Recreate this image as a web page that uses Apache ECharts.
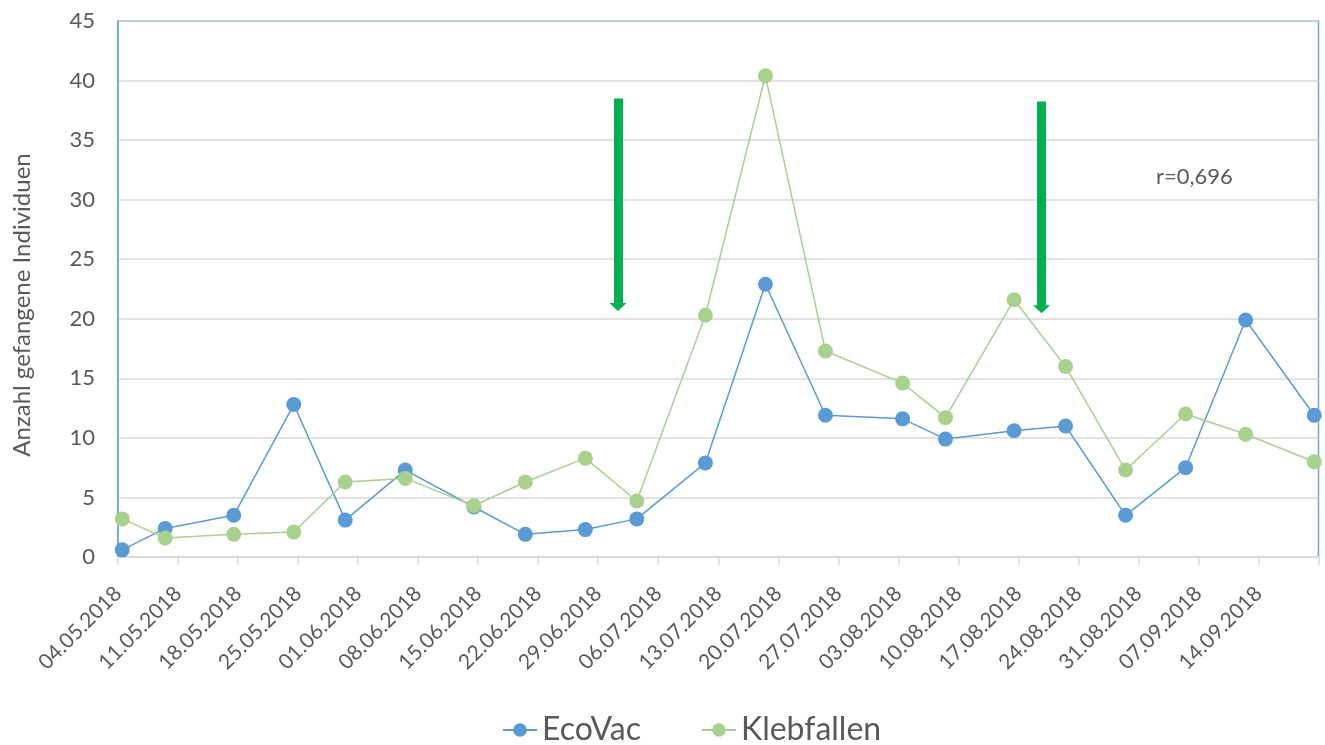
<!DOCTYPE html>
<html>
<head>
<meta charset="utf-8">
<script src="https://cdn.jsdelivr.net/npm/echarts@6/dist/echarts.min.js"></script>
<style>
  html, body { margin: 0; padding: 0; background: #fff; }
  #chart { width: 1325px; height: 745px; }
</style>
</head>
<body>
<div id="chart"></div>
<script>
// Fangdaten
var sampleDates = ['2018-05-04', '2018-05-09', '2018-05-17', '2018-05-24', '2018-05-30', '2018-06-06', '2018-06-14',
    '2018-06-20', '2018-06-27', '2018-07-03', '2018-07-11', '2018-07-18', '2018-07-25', '2018-08-03',
    '2018-08-08', '2018-08-16', '2018-08-22', '2018-08-29', '2018-09-05', '2018-09-12', '2018-09-20'];
var ecoVac = [0.6, 2.4, 3.5, 12.8, 3.1, 7.3, 4.2, 1.9, 2.3, 3.2, 7.9, 22.9, 11.9, 11.6, 9.9, 10.6, 11.0, 3.5, 7.5, 19.9, 11.9];
var klebfallen = [3.2, 1.6, 1.9, 2.1, 6.3, 6.6, 4.3, 6.3, 8.3, 4.7, 20.3, 40.4, 17.3, 14.6, 11.7, 21.6, 16.0, 7.3, 12.0, 10.3, 8.0];

// Achsenbeschriftung (wöchentlich)
var tickLabels = ['04.05.2018', '11.05.2018', '18.05.2018', '25.05.2018', '01.06.2018', '08.06.2018', '15.06.2018',
    '22.06.2018', '29.06.2018', '06.07.2018', '13.07.2018', '20.07.2018', '27.07.2018', '03.08.2018',
    '10.08.2018', '17.08.2018', '24.08.2018', '31.08.2018', '07.09.2018', '14.09.2018'];

// Pfeile (Tag ab 04.05., Anfang, Spitze)
var arrowDays = [58.3, 107.7];
var arrowFrom = [38.5, 38.25];
var arrowTo = [20.98, 20.8];

var startDate = Date.parse(sampleDates[0]);
function dayOf(d) {
    return (Date.parse(d) - startDate) / 86400000 + 0.5;   // Punkt mittig im Tag
}
function pairs(values) {
    return values.map(function (v, i) { return [dayOf(sampleDates[i]), v]; });
}

var font = 'Lato, "Open Sans", sans-serif';
var grey = '#595959';

var myChart = echarts.init(document.getElementById('chart'));
myChart.setOption({
    backgroundColor: '#fff',
    animation: false,
    grid: {
        left: 118, top: 21, width: 1200.5, height: 536,
        show: true, borderColor: '#6FA6DC', borderWidth: 1.5
    },
    legend: {
        left: 502, top: 714, padding: 0,
        itemWidth: 34, itemHeight: 17, itemGap: 60,
        textStyle: { fontFamily: font, fontSize: 32, color: grey },
        data: ['EcoVac', 'Klebfallen']
    },
    xAxis: {
        type: 'value', min: 0, max: 140, interval: 7,
        axisLine: { lineStyle: { color: '#d9d9d9', width: 2 } },
        axisTick: { show: true, length: 8, lineStyle: { color: '#d9d9d9', width: 1.5 } },
        splitLine: { show: false },
        axisLabel: {
            rotate: 45, margin: 33,
            fontFamily: font, fontSize: 21, color: grey,
            formatter: function (v) { return tickLabels[Math.round(v / 7)] || ''; }
        }
    },
    yAxis: {
        type: 'value', min: 0, max: 45, interval: 5,
        axisLine: { show: true, lineStyle: { color: '#6FA6DC', width: 1.5 } },
        axisTick: { show: false },
        splitLine: { lineStyle: { color: '#d9d9d9', width: 1.5 } },
        axisLabel: { margin: 23, fontFamily: font, fontSize: 22, color: grey }
    },
    graphic: [
        {
            type: 'text', x: 22, y: 305, rotation: Math.PI / 2,
            style: { text: 'Anzahl gefangene Individuen', fontFamily: font, fontSize: 24, fill: grey,
                     align: 'center', verticalAlign: 'middle' }
        },
        {
            type: 'text', x: 1156, y: 177,
            style: { text: 'r=0,696', fontFamily: font, fontSize: 22, fill: grey, verticalAlign: 'middle' }
        }
    ],
    series: [
        {
            name: 'EcoVac', type: 'line',
            data: pairs(ecoVac),
            symbol: 'circle', symbolSize: 15,
            lineStyle: { color: '#5B9BD5', width: 1.5 },
            itemStyle: { color: '#5B9BD5' }
        },
        {
            name: 'Klebfallen', type: 'line',
            data: pairs(klebfallen),
            symbol: 'circle', symbolSize: 15,
            lineStyle: { color: '#A9D18E', width: 1.5 },
            itemStyle: { color: '#A9D18E' },
            markLine: {
                silent: true, animation: false,
                symbol: ['none', 'triangle'], symbolSize: [17, 8],
                label: { show: false },
                lineStyle: { color: '#00B050', width: 9, type: 'solid' },
                itemStyle: { color: '#00B050' },
                data: arrowDays.map(function (d, i) {
                    return [{ coord: [d, arrowFrom[i]] }, { coord: [d, arrowTo[i]] }];
                })
            }
        }
    ]
});
</script>
</body>
</html>
